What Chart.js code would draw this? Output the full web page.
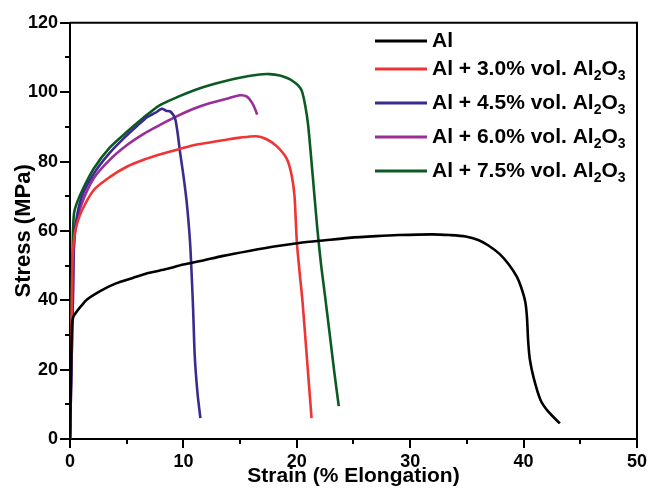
<!DOCTYPE html>
<html>
<head>
<meta charset="utf-8">
<script src="https://cdn.jsdelivr.net/npm/chart.js@4.4.1/dist/chart.umd.min.js"></script>
<style>
  html, body { margin: 0; padding: 0; background: #ffffff; }
  #wrap { width: 659px; height: 491px; position: relative; }
</style>
</head>
<body>
<div id="wrap"><canvas id="c" width="659" height="491"></canvas></div>
<script>
// ---- data ----
const seriesLabels = ["Al", "Al + 3.0% vol. Al₂O₃", "Al + 4.5% vol. Al₂O₃", "Al + 6.0% vol. Al₂O₃", "Al + 7.5% vol. Al₂O₃"];
const seriesColors = ["#000000", "#ef3434", "#3b2b8e", "#9a2e98", "#0b5a22"];

const alStrain = [0, 0.12, 0.18, 0.3, 0.5, 0.9, 1.5, 2.7, 4.0, 5.6, 7.0, 8.5, 10.0, 11.5, 13.5, 15.9, 18.0, 20.2, 22.5, 24.6, 27.0, 29.0, 31.9, 33.5, 34.9, 36.0, 36.9, 37.9, 38.7, 39.4, 39.8, 40.15, 40.3, 40.4, 40.55, 40.9, 41.5, 42.2, 43.2];
const alStress = [0, 25, 33, 35.3, 36.3, 38, 40.2, 42.7, 44.8, 46.5, 47.9, 49, 50.3, 51.3, 52.8, 54.3, 55.5, 56.5, 57.3, 58, 58.5, 58.8, 59, 58.8, 58.4, 57.4, 55.8, 53.3, 50.3, 46.8, 43.6, 39.5, 35, 28.4, 23, 17.5, 11.2, 7.8, 4.5];

const al30Strain = [0, 0.2, 0.3, 0.5, 1.0, 2.1, 3.5, 5.0, 6.5, 7.9, 9.5, 10.9, 12.3, 13.8, 15.0, 16.4, 17.3, 18.2, 19.1, 19.55, 19.8, 20.0, 20.25, 20.5, 20.9, 21.3];
const al30Stress = [0, 48, 56, 60.5, 65.5, 71.8, 75.5, 78.5, 80.5, 82, 83.5, 84.7, 85.5, 86.3, 86.9, 87.3, 86.5, 84.5, 80.9, 76, 70, 57, 48, 39.8, 23, 6];

const al45Strain = [0, 0.25, 0.33, 0.5, 1.0, 2.1, 3.5, 5.0, 6.0, 6.8, 7.5, 8.1, 8.5, 8.8, 9.1, 9.3, 9.5, 9.7, 10.0, 10.3, 10.6, 10.85, 11.0, 11.25, 11.5];
const al45Stress = [0, 40, 55, 62, 69.5, 76.5, 82.5, 87.5, 90.5, 92.8, 94, 95.2, 94.6, 94.5, 93.5, 92, 88, 82.8, 76, 68, 56, 38, 24, 13, 6];

const al60Strain = [0, 0.25, 0.35, 0.5, 1.0, 2.1, 3.5, 5.0, 6.5, 7.9, 9.4, 10.9, 12.3, 13.8, 15.0, 15.6, 16.1, 16.4, 16.5];
const al60Stress = [0, 40, 55, 61, 67.5, 75.2, 80.5, 84.7, 88, 90.5, 93, 95.2, 96.8, 98.1, 99.1, 98.7, 96.7, 94.5, 93.5];

const al75Strain = [0, 0.15, 0.25, 0.35, 0.6, 1.2, 2.1, 3.5, 5.0, 6.5, 7.9, 9.4, 10.9, 12.3, 13.8, 15.2, 16.7, 17.6, 18.5, 19.2, 19.6, 20.1, 20.45, 20.75, 21.0, 21.4, 21.8, 22.15, 22.5, 22.9, 23.3, 23.7];
const al75Stress = [0, 40, 58, 65, 68, 72.5, 78, 84, 88.5, 92.7, 96.2, 98.5, 100.5, 102, 103.3, 104.3, 105.1, 105.2, 104.8, 104, 103.3, 102, 100.3, 96, 90.5, 76.1, 61, 50, 41, 30.3, 19.5, 9.5];

const xTickValues = [0, 10, 20, 30, 40, 50];
const yTickValues = [0, 20, 40, 60, 80, 100, 120];
const xAxisTitle = "Strain (% Elongation)";
const yAxisTitle = "Stress (MPa)";

// ---- build datasets ----
const strainSets = [alStrain, al30Strain, al45Strain, al60Strain, al75Strain];
const stressSets = [alStress, al30Stress, al45Stress, al60Stress, al75Stress];
const datasets = seriesLabels.map((lab, i) => ({
  label: lab,
  data: strainSets[i].map((x, k) => ({ x: x, y: stressSets[i][k] })),
  borderColor: seriesColors[i],
  backgroundColor: seriesColors[i],
  borderWidth: 2.6,
  pointRadius: 0,
  tension: 0.25,
  fill: false
}));

const FONT = "'Liberation Sans', Arial, sans-serif";

// outward major/minor ticks + top/right frame
const framePlugin = {
  id: 'frame',
  afterDraw(chart) {
    const ctx = chart.ctx;
    const a = chart.chartArea;
    const xs = chart.scales.x, ys = chart.scales.y;
    ctx.save();
    ctx.strokeStyle = '#000';
    ctx.lineWidth = 2;
    ctx.beginPath();
    ctx.moveTo(a.left, a.top); ctx.lineTo(a.right, a.top); ctx.lineTo(a.right, a.bottom);
    ctx.stroke();
    ctx.beginPath();
    for (let v = ys.min; v <= ys.max + 1e-9; v += 10) {
      const p = Math.round(ys.getPixelForValue(v));
      const len = (v % 20 === 0) ? 10 : 5;
      ctx.moveTo(a.left, p); ctx.lineTo(a.left - len, p);
    }
    for (let v = xs.min; v <= xs.max + 1e-9; v += 5) {
      const p = Math.round(xs.getPixelForValue(v));
      const len = (v % 10 === 0) ? 9 : 5;
      ctx.moveTo(p, a.bottom); ctx.lineTo(p, a.bottom + len);
    }
    ctx.stroke();
    ctx.restore();
  }
};

// legend with subscripts
const subMap = { '₀': '0', '₁': '1', '₂': '2', '₃': '3', '₄': '4', '₅': '5', '₆': '6', '₇': '7', '₈': '8', '₉': '9' };
const legendPlugin = {
  id: 'subLegend',
  afterDraw(chart) {
    const ctx = chart.ctx;
    const rowsY = [41, 69, 103, 137, 171];
    const x0 = 375, x1 = 427, tx = 432;
    ctx.save();
    chart.data.datasets.forEach((ds, i) => {
      const y = rowsY[i];
      ctx.strokeStyle = ds.borderColor;
      ctx.lineWidth = 3;
      ctx.beginPath(); ctx.moveTo(x0, y); ctx.lineTo(x1, y); ctx.stroke();
      ctx.fillStyle = '#000';
      ctx.textBaseline = 'middle';
      ctx.textAlign = 'left';
      let x = tx;
      for (const ch of ds.label) {
        if (subMap[ch]) {
          ctx.font = "bold 14px " + FONT;
          ctx.fillText(subMap[ch], x, y + 7);
          x += ctx.measureText(subMap[ch]).width;
        } else {
          ctx.font = "bold 21px " + FONT;
          ctx.fillText(ch, x, y);
          x += ctx.measureText(ch).width;
        }
      }
    });
    ctx.restore();
  }
};

new Chart(document.getElementById('c'), {
  type: 'line',
  data: { datasets: datasets },
  options: {
    responsive: false,
    animation: false,
    events: [],
    layout: { padding: { top: 20, right: 19, left: 0, bottom: 0 } },
    plugins: { legend: { display: false }, tooltip: { enabled: false } },
    scales: {
      x: {
        type: 'linear', min: 0, max: 50,
        afterFit(s) { s.height = 52; },
        afterBuildTicks(s) { s.ticks = xTickValues.map(v => ({ value: v })); },
        grid: { display: true, drawOnChartArea: false, drawTicks: false },
        border: { display: true, color: '#000', width: 2 },
        ticks: { color: '#000', padding: 12, maxRotation: 0, font: { family: FONT, size: 18, weight: 'bold' } },
        title: { display: true, text: xAxisTitle, color: '#000', padding: { top: 0, bottom: 2 }, font: { family: FONT, size: 21, weight: 'bold' } }
      },
      y: {
        type: 'linear', min: 0, max: 120,
        afterFit(s) { s.width = 70; },
        afterBuildTicks(s) { s.ticks = yTickValues.map(v => ({ value: v })); },
        grid: { display: true, drawOnChartArea: false, drawTicks: false },
        border: { display: true, color: '#000', width: 2 },
        ticks: { color: '#000', padding: 12, font: { family: FONT, size: 18, weight: 'bold' } },
        title: { display: true, text: yAxisTitle, color: '#000', padding: { top: 11, bottom: 0 }, font: { family: FONT, size: 22, weight: 'bold' } }
      }
    }
  },
  plugins: [framePlugin, legendPlugin]
});
</script>
</body>
</html>
